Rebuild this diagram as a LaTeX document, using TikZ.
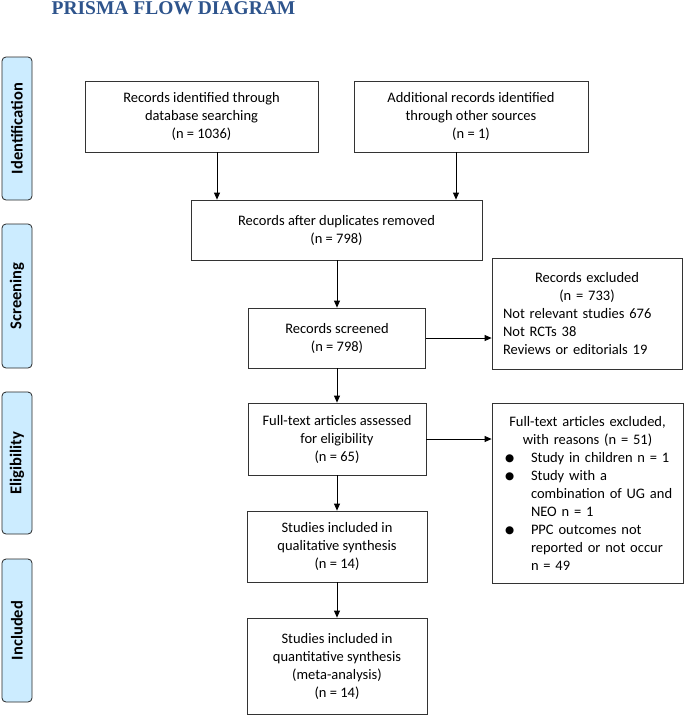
\documentclass[tikz,border=0pt]{standalone}
\usepackage{fontspec}
\setmainfont{Carlito}
\newfontfamily\titlefont{Liberation Serif}
\newfontfamily\symfont{DejaVu Sans}
\usetikzlibrary{arrows.meta}
\definecolor{titleblue}{RGB}{46,84,140}
\definecolor{tabblue}{RGB}{204,236,255}
\newcommand\bul{\raisebox{1pt}{\symfont\fontsize{10.5}{18}\selectfont ●}}

\begin{document}
\begin{tikzpicture}[x=1pt,y=-1pt,
  font=\fontsize{14.5}{18}\selectfont,
  box/.style={draw=black!80,line width=.8pt,align=center,inner sep=2pt},
  listbox/.style={draw=black!80,line width=.8pt,inner xsep=6pt,inner ysep=2pt},
  phase/.style={draw=black!85,line width=.8pt,fill=tabblue,rounded corners=4pt,
    rotate=90,minimum height=30pt,font=\fontsize{16.5}{18}\selectfont\bfseries},
  arr/.style={-{Triangle[length=7pt,width=6pt]},line width=.8pt}]
  \useasboundingbox (0,0) rectangle (685,716);
  % title
  \node[text=titleblue] (title) at (173.5,8)
    {\titlefont\bfseries\fontsize{19.5}{20}\selectfont PRISMA FLOW DIAGRAM};
  % phases
  \node[phase,minimum width=143pt] (ident) at (17,128.5){Identification};
  \node[phase,minimum width=144pt] (screen) at (17,296){Screening};
  \node[phase,minimum width=142pt] (elig) at (17,463){Eligibility};
  \node[phase,minimum width=143pt] (incl) at (17,630.5){Included};
  % identification
  \node[box,minimum width=233pt,minimum height=71pt] (dbsearch) at (201.5,116.5)
    {Records identified through\\database searching\\(n = 1036)};
  \node[box,minimum width=234pt,minimum height=71pt] (othersrc) at (471,116.5)
    {Additional records identified\\through other sources\\(n = 1)};
  % screening
  \node[box,minimum width=291pt,minimum height=60pt] (dedup) at (336.5,230)
    {Records after duplicates removed\\(n = 798)};
  \node[box,minimum width=177pt,minimum height=60pt] (screened) at (337,338)
    {Records screened\\(n = 798)};
  \node[listbox,text width=178pt,minimum height=111pt] (recexcl) at (587,313.5)
    {\parindent=0pt{\centering Records excluded\\(n = 733)\par}
     \raggedright\leftskip=5pt Not relevant studies 676\\Not RCTs 38\\Reviews or editorials 19\par};
  % eligibility
  \node[box,minimum width=178pt,minimum height=72pt] (fulltext) at (337,439)
    {Full-text articles assessed\\for eligibility\\(n = 65)};
  \node[listbox,text width=179pt,minimum height=180pt] (ftexcl) at (587.5,493)
    {\parindent=0pt{\centering Full-text articles excluded,\\with reasons (n = 51)\par}
     \raggedright
     \hangindent=33pt\hangafter=1\makebox[33pt][l]{\hspace{7pt}\bul}Study in children n = 1\par
     \hangindent=33pt\hangafter=1\makebox[33pt][l]{\hspace{7pt}\bul}Study with a\newline combination of UG and\newline NEO n = 1\par
     \hangindent=33pt\hangafter=1\makebox[33pt][l]{\hspace{7pt}\bul}PPC outcomes not\newline reported or not occur\newline n = 49\par};
  % included
  \node[box,minimum width=180pt,minimum height=71pt] (qualit) at (337,546.5)
    {Studies included in\\qualitative synthesis\\(n = 14)};
  \node[box,minimum width=180pt,minimum height=96pt] (quantit) at (337,666)
    {Studies included in\\quantitative synthesis\\(meta-analysis)\\(n = 14)};
  % arrows
  \draw[arr] ([xshift=15.5pt]dbsearch.south) -- ([xshift=15.5pt]dbsearch.south |- dedup.north);
  \draw[arr] ([xshift=-15pt]othersrc.south) -- ([xshift=-15pt]othersrc.south |- dedup.north);
  \draw[arr] (dedup.south -| screened.north) -- (screened.north);
  \draw[arr] (screened) -- (screened -| recexcl.west);
  \draw[arr] (screened) -- (fulltext);
  \draw[arr] (fulltext) -- (fulltext -| ftexcl.west);
  \draw[arr] (fulltext) -- (qualit);
  \draw[arr] (qualit) -- (quantit);
\end{tikzpicture}
\end{document}
